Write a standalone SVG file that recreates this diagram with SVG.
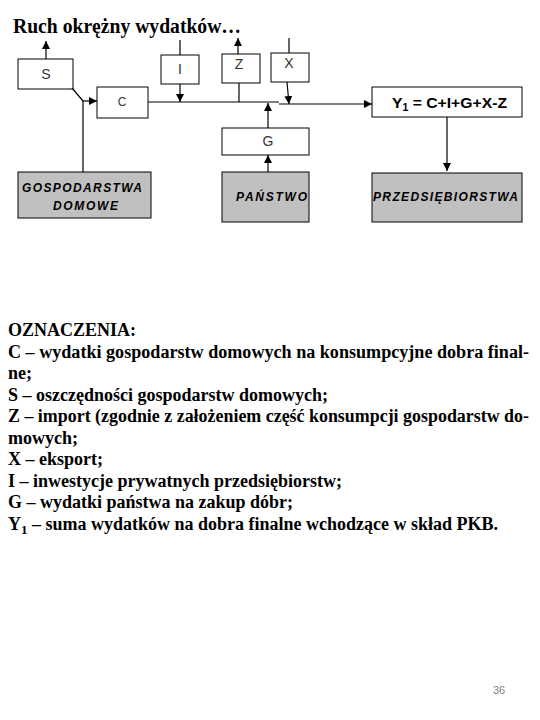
<svg xmlns="http://www.w3.org/2000/svg" width="540" height="720" viewBox="0 0 540 720">
<style>
.box{fill:#fff;stroke:#000;stroke-width:1}
.gbox{fill:#c0c0c0;stroke:#000;stroke-width:1}
.lbl{font-family:"Liberation Sans",Arial,sans-serif;font-size:14px;fill:#333;text-anchor:middle}
.it{font-family:"Liberation Sans",Arial,sans-serif;font-size:12px;font-weight:bold;font-style:italic;fill:#000}
.ln{stroke:#000;stroke-width:1.2;fill:none}
.leg{font-family:"Liberation Serif","Times New Roman",serif;font-size:18px;font-weight:bold;fill:#000}
</style>
<defs>
<marker id="ah" markerUnits="userSpaceOnUse" markerWidth="8" markerHeight="9" refX="8" refY="4" orient="auto">
<path d="M0,0 L8,4 L0,8 Z" fill="#000"/>
</marker>
</defs>
<rect width="540" height="720" fill="#fff"/>
<text x="13" y="33" font-family="'Liberation Serif','Times New Roman',serif" font-size="21" font-weight="bold" textLength="228" lengthAdjust="spacingAndGlyphs">Ruch okrężny wydatków…</text>

<g id="node-S"><rect class="box" x="18" y="59" width="55" height="30"/><text class="lbl" x="46" y="79">S</text></g>
<g id="node-C"><rect class="box" x="97" y="87" width="51" height="31"/><text class="lbl" x="122" y="106" style="font-size:12px">C</text></g>
<g id="node-I"><rect class="box" x="161" y="55" width="38" height="29"/><text class="lbl" x="180" y="74">I</text></g>
<g id="node-Z"><rect class="box" x="222" y="54" width="38" height="29"/><text class="lbl" x="239" y="69">Z</text></g>
<g id="node-X"><rect class="box" x="271" y="53" width="38" height="29"/><text class="lbl" x="289" y="68">X</text></g>
<g id="node-Y"><rect class="box" x="372" y="87" width="150" height="30"/><text x="392" y="108" font-family="'Liberation Sans',Arial,sans-serif" font-size="15" font-weight="bold" textLength="115" lengthAdjust="spacingAndGlyphs">Y<tspan font-size="10" dy="3">1</tspan><tspan dy="-3"> = C+I+G+X-Z</tspan></text></g>
<g id="node-G"><rect class="box" x="222" y="128" width="87" height="27"/><text class="lbl" x="268" y="146">G</text></g>
<g id="node-GD"><rect class="gbox" x="18" y="172" width="133" height="46"/><text class="it" x="22" y="192" textLength="120" lengthAdjust="spacing">GOSPODARSTWA</text><text class="it" x="53" y="210" textLength="65" lengthAdjust="spacing">DOMOWE</text></g>
<g id="node-P"><rect class="gbox" x="222" y="172" width="87" height="50"/><text class="it" x="236" y="201" textLength="71" lengthAdjust="spacing">PAŃSTWO</text></g>
<g id="node-PR"><rect class="gbox" x="372" y="173" width="150" height="49"/><text class="it" x="373" y="201" textLength="145" lengthAdjust="spacing">PRZEDSIĘBIORSTWA</text></g>

<g id="connectors">
<line class="ln" x1="46" y1="59" x2="46" y2="41" marker-end="url(#ah)"/>
<line class="ln" x1="72" y1="88" x2="83" y2="101"/>
<line class="ln" x1="83" y1="172" x2="83" y2="101"/>
<line class="ln" x1="83" y1="101" x2="97" y2="101" marker-end="url(#ah)"/>
<line class="ln" x1="148" y1="102" x2="279" y2="102"/>
<line class="ln" x1="279" y1="104" x2="372" y2="104" marker-end="url(#ah)"/>
<line class="ln" x1="180" y1="40" x2="180" y2="55"/>
<line class="ln" x1="180" y1="84" x2="180" y2="102" marker-end="url(#ah)"/>
<line class="ln" x1="238" y1="54" x2="238" y2="38" marker-end="url(#ah)"/>
<line class="ln" x1="239" y1="83" x2="239" y2="102"/>
<line class="ln" x1="289" y1="38" x2="289" y2="53"/>
<line class="ln" x1="287" y1="82" x2="289" y2="104" marker-end="url(#ah)"/>
<line class="ln" x1="268" y1="128" x2="268" y2="103" marker-end="url(#ah)"/>
<line class="ln" x1="268" y1="172" x2="268" y2="155" marker-end="url(#ah)"/>
<line class="ln" x1="447" y1="117" x2="447" y2="171" marker-end="url(#ah)"/>
</g>

<g id="legend" class="leg">
<text x="8" y="336">OZNACZENIA:</text>
<text x="8" y="357.5" textLength="521" lengthAdjust="spacingAndGlyphs">C – wydatki gospodarstw domowych na konsumpcyjne dobra final-</text>
<text x="8" y="379">ne;</text>
<text x="8" y="400.5">S – oszczędności gospodarstw domowych;</text>
<text x="8" y="422" textLength="521" lengthAdjust="spacingAndGlyphs">Z – import (zgodnie z założeniem część konsumpcji gospodarstw do-</text>
<text x="8" y="443.5">mowych;</text>
<text x="8" y="465">X – eksport;</text>
<text x="8" y="486.5">I – inwestycje prywatnych przedsiębiorstw;</text>
<text x="8" y="508">G – wydatki państwa na zakup dóbr;</text>
<text x="8" y="529.5">Y<tspan font-size="13" dy="4">1</tspan><tspan dy="-4"> – suma wydatków na dobra finalne wchodzące w skład PKB.</tspan></text>
</g>
<text x="499" y="694" font-family="'Liberation Sans',Arial,sans-serif" font-size="11" fill="#808080" text-anchor="middle">36</text>
</svg>
